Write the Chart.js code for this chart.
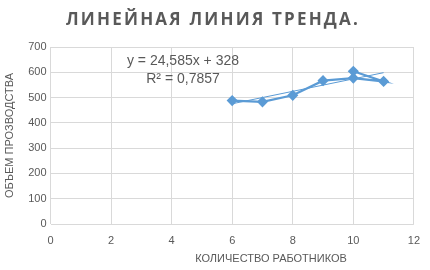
<!DOCTYPE html>
<html>
<head>
<meta charset="utf-8">
<script src="https://cdn.jsdelivr.net/npm/chart.js@4/dist/chart.umd.min.js"></script>
<style>
  html, body { margin: 0; padding: 0; background: #fff; }
  #wrap { width: 430px; height: 270px; }
</style>
</head>
<body>
<div id="wrap"><canvas id="trendChart" width="430" height="270"></canvas></div>
<script>
const chartTitle = 'ЛИНЕЙНАЯ ЛИНИЯ ТРЕНДА.';
const xTitle = 'КОЛИЧЕСТВО РАБОТНИКОВ';
const yTitle = 'ОБЪЕМ ПРОЗВОДСТВА';
const workers = [6, 7, 8, 9, 10, 11, 10];
const output = [488, 483, 509, 567, 577, 564, 604];
const trendSlope = 24.585;
const trendIntercept = 328;
const trendText = ['y = 24,585x + 328', 'R² = 0,7857'];

const blue = '#5B9BD5';
const grey = '#595959';
const gridGrey = '#D9D9D9';

const points = workers.map((x, i) => ({ x, y: output[i] }));
const xMin = Math.min(...workers), xMax = Math.max(...workers);
const trend = [xMin, xMax].map(x => ({ x, y: trendSlope * x + trendIntercept }));

// titles and the trend equation are drawn by hand (letter spacing, offsets)
const textPlugin = {
    id: 'texts',
    afterDraw(chart) {
        const ctx = chart.ctx;
        ctx.save();
        ctx.fillStyle = grey;
        ctx.textAlign = 'center';
        ctx.textBaseline = 'middle';

        ctx.font = 'bold 17px "Open Sans"';
        ctx.letterSpacing = '2.2px';
        ctx.fillText(chartTitle, 213, 20);
        ctx.letterSpacing = '0px';

        ctx.font = '14px "Liberation Sans"';
        ctx.fillText(trendText[0], 183, 61);
        ctx.fillText(trendText[1], 183, 79);

        ctx.font = '11px "Liberation Sans"';
        ctx.fillText(xTitle, 271, 259);
        ctx.restore();
    }
};

new Chart(document.getElementById('trendChart'), {
    type: 'scatter',
    data: {
        datasets: [
            {
                data: points,
                showLine: true,
                borderColor: blue,
                backgroundColor: blue,
                borderWidth: 2.25,
                pointStyle: 'rectRot',
                pointRadius: 4,
                pointHoverRadius: 4
            },
            {
                data: trend,
                showLine: true,
                borderColor: blue,
                borderWidth: 1,
                pointRadius: 0
            }
        ]
    },
    options: {
        responsive: false,
        animation: false,
        layout: { padding: { top: 47, right: 11, left: 0, bottom: 0 } },
        plugins: { legend: { display: false }, tooltip: { enabled: false } },
        scales: {
            x: {
                type: 'linear', min: 0, max: 12,
                afterFit: s => { s.height = 46; },
                border: { display: false },
                grid: { color: gridGrey, drawTicks: false },
                ticks: { stepSize: 2, padding: 10, color: grey, font: { family: 'Liberation Sans', size: 11 } }
            },
            y: {
                min: 0, max: 700,
                afterFit: s => { s.width = 50.5; },
                border: { display: false },
                grid: { color: gridGrey, drawTicks: false },
                ticks: { stepSize: 100, padding: 4, color: grey, font: { family: 'Liberation Sans', size: 11 } },
                title: { display: true, text: yTitle, color: grey, padding: 3, font: { family: 'Liberation Sans', size: 11 } }
            }
        }
    },
    plugins: [textPlugin]
});
</script>
</body>
</html>
